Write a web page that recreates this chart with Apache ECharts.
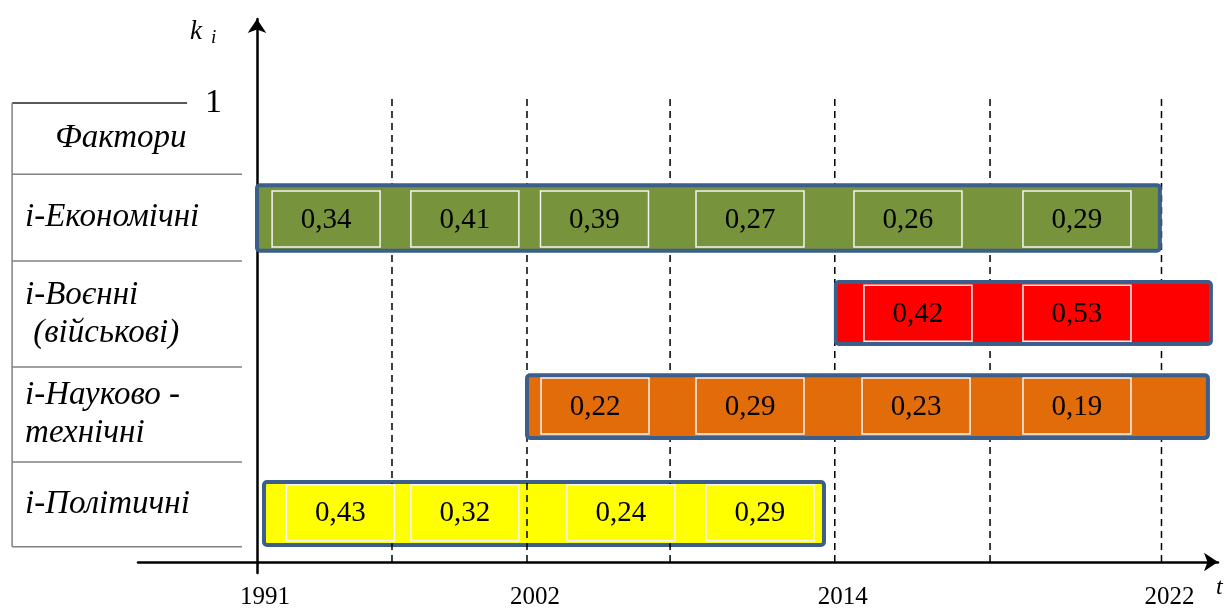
<!DOCTYPE html>
<html><head><meta charset="utf-8">
<script src="https://cdn.jsdelivr.net/npm/echarts@6/dist/echarts.min.js"></script>
<style>html,body{margin:0;padding:0;background:#fff}#c{width:1227px;height:610px}</style>
</head><body><div id="c"></div>
<script>
// ---- data ----
const tableHeader = 'Фактори';
const factors = ['і-Економічні', 'і-Воєнні\n (військові)', 'і-Науково -\nтехнічні', 'і-Політичні'];
const economicValues = [0.34, 0.41, 0.39, 0.27, 0.26, 0.29];
const militaryValues = [0.42, 0.53];
const sciTechValues = [0.22, 0.29, 0.23, 0.19];
const politicalValues = [0.43, 0.32, 0.24, 0.29];
const yearLabels = ['1991', '2002', '2014', '2022'];
const yTickLabels = ['1'];

// ---- layout (timeline units on x, k_i units on y) ----
const factorValues = [economicValues, militaryValues, sciTechValues, politicalValues];
const yearPos = [0, 10, 21.4, 33.5];
const yTickPos = [1];
const periodLines = [5, 10, 15.3, 21.4, 27.15, 33.5];
const dashTop = 1.017;
const barSpans = [[0, 33.44], [21.44, 35.33], [10, 35.22], [0.26, 21.0]];
const barBands = [[0.678, 0.821], [0.475, 0.610], [0.270, 0.407], [0.037, 0.174]];
const boxCenters = [[2.56, 7.7, 12.5, 18.26, 24.11, 30.37], [24.48, 30.37], [12.52, 18.26, 24.41, 30.37], [3.09, 7.7, 13.48, 18.63]];
const boxBands = [[0.686, 0.808], [0.481, 0.603], [0.279, 0.401], [0.046, 0.168]];
const boxWidth = 4;
const barColors = ['#77933C', '#FF0000', '#E36C0A', '#FFFF00'];
const rowEdges = [1.0, 0.845, 0.656, 0.425, 0.218, 0.033];
const tableLeft = -9.07, tableRight = -0.556, tableTopRight = -2.59, textLeft = -8.59, headerCenter = -5.04;

const FONT = "'Liberation Serif','Times New Roman',serif";
const chart = echarts.init(document.getElementById('c'), null, {renderer: 'canvas'});

const series = [];
// dashed period lines
series.push({
  type: 'custom', z: 2, clip: false, silent: true,
  data: periodLines.map(x => [x]),
  renderItem(params, api) {
    const x = api.value(0);
    const a = api.coord([x, 0]), b = api.coord([x, dashTop]);
    return {type: 'line', shape: {x1: a[0], y1: a[1], x2: b[0], y2: b[1]},
      style: {stroke: '#000', lineWidth: 1.5, lineDash: [7, 5]}};
  }
});

factors.forEach((f, i) => {
  series.push({
    type: 'custom', name: f, z: i === 3 ? 1 : 3, clip: false, silent: true,
    data: [barSpans[i]],
    renderItem(params, api) {
      const p1 = api.coord([api.value(0), barBands[i][1]]);
      const p2 = api.coord([api.value(1), barBands[i][0]]);
      return {type: 'rect', shape: {x: p1[0], y: p1[1], width: p2[0] - p1[0], height: p2[1] - p1[1], r: 3},
        style: {fill: barColors[i], stroke: '#3B5E8B', lineWidth: 4}};
    }
  });
  series.push({
    type: 'custom', z: 4, clip: false, silent: true,
    data: factorValues[i].map((v, j) => [boxCenters[i][j], v]),
    renderItem(params, api) {
      const cx = api.value(0), v = api.value(1);
      const p1 = api.coord([cx - boxWidth / 2, boxBands[i][1]]);
      const p2 = api.coord([cx + boxWidth / 2, boxBands[i][0]]);
      return {type: 'group', children: [
        {type: 'rect', shape: {x: p1[0], y: p1[1], width: p2[0] - p1[0], height: p2[1] - p1[1]},
          style: {fill: barColors[i], stroke: '#F4F4F4', lineWidth: 1.5}},
        {type: 'text', x: (p1[0] + p2[0]) / 2, y: (p1[1] + p2[1]) / 2 + 1,
          style: {text: v.toFixed(2).replace('.', ','), font: '29px ' + FONT, fill: '#000', align: 'center', verticalAlign: 'middle'}}
      ]};
    }
  });
});

// table of factors
series.push({
  type: 'custom', z: 5, clip: false, silent: true,
  data: [[-1], [0], [1], [2], [3]],
  renderItem(params, api) {
    const r = api.value(0);
    const top = rowEdges[r + 1], bot = rowEdges[r + 2];
    const children = [];
    const bl = api.coord([tableLeft, bot]), br = api.coord([tableRight, bot]);
    children.push({type: 'line', shape: {x1: bl[0], y1: bl[1], x2: br[0], y2: br[1]}, style: {stroke: '#808080', lineWidth: 1.5}});
    const mid = (top + bot) / 2;
    if (r === -1) {
      const tl = api.coord([tableLeft, top]), tr = api.coord([tableTopRight, top]);
      children.push({type: 'line', shape: {x1: tl[0], y1: tl[1], x2: tr[0], y2: tr[1]}, style: {stroke: '#222', lineWidth: 1.5}});
      const lb = api.coord([tableLeft, rowEdges[rowEdges.length - 1]]);
      children.push({type: 'line', shape: {x1: tl[0], y1: tl[1], x2: lb[0], y2: lb[1]}, style: {stroke: '#808080', lineWidth: 1.5}});
      const c = api.coord([headerCenter, mid]);
      children.push({type: 'text', x: c[0], y: c[1], style: {text: tableHeader, font: 'italic 33px ' + FONT, fill: '#000', align: 'center', verticalAlign: 'middle'}});
    } else {
      const c = api.coord([textLeft, mid]);
      children.push({type: 'text', x: c[0], y: c[1], style: {text: factors[r], font: 'italic 33px ' + FONT, lineHeight: 38, fill: '#000', align: 'left', verticalAlign: 'middle'}});
    }
    return {type: 'group', children};
  }
});

chart.setOption({
  animation: false,
  backgroundColor: '#fff',
  grid: {left: 138, right: 9, top: 19, bottom: 37, containLabel: false, outerBoundsMode: 'none'},
  xAxis: {
    type: 'value', min: -4.407, max: 35.593,
    axisLine: {onZero: true, symbol: ['none', 'arrow'], symbolSize: [14, 14], lineStyle: {color: '#000', width: 2.5}},
    axisTick: {show: false},
    splitLine: {show: false},
    axisLabel: {customValues: yearPos, margin: 12, padding: [0, 0, 0, 16], color: '#000', fontSize: 25, fontFamily: FONT,
      formatter: v => { const k = yearPos.indexOf(v); return k >= 0 ? yearLabels[k] : ''; }}
  },
  yAxis: {
    type: 'value', min: -0.024, max: 1.183,
    axisLine: {show: true, onZero: true, symbol: ['none', 'arrow'], symbolSize: [14, 14], lineStyle: {color: '#000', width: 2.5}},
    axisTick: {show: false},
    splitLine: {show: false},
    axisLabel: {customValues: yTickPos, margin: -84, color: '#000', fontSize: 34, fontFamily: FONT, padding: [0, 0, 8, 0],
      formatter: v => { const k = yTickPos.indexOf(v); return k >= 0 ? yTickLabels[k] : ''; }}
  },
  graphic: [
    {type: 'text', left: 190, top: 18, style: {text: '{k|k}{i|i}', rich: {k: {font: 'italic 27px ' + FONT, fill: '#000'}, i: {font: 'italic 19px ' + FONT, fill: '#000', padding: [12, 0, 0, 9]}}}},
    {type: 'text', left: 1216, top: 576, style: {text: 't', font: 'italic 24px ' + FONT, fill: '#000'}}
  ],
  series
});
</script>
</body></html>
